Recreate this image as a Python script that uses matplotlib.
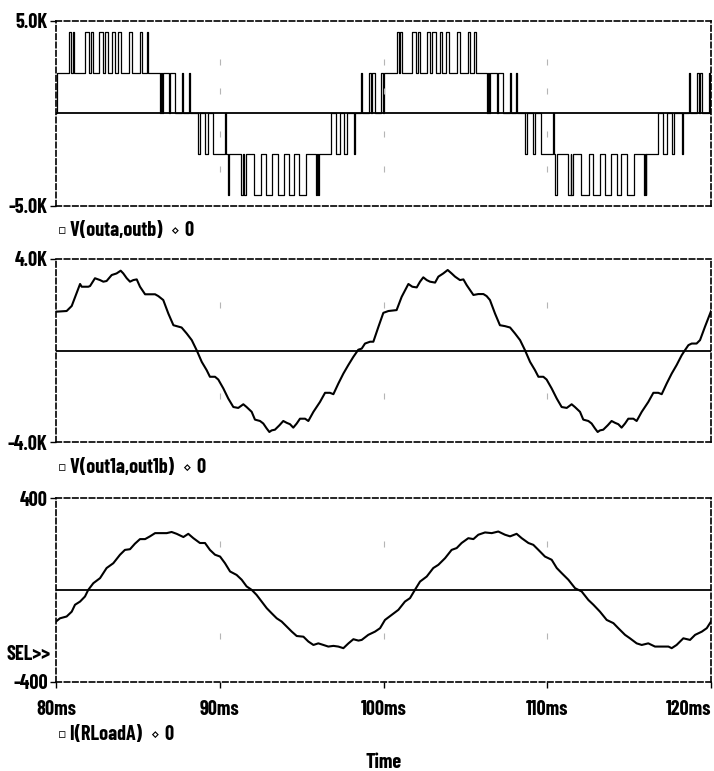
import matplotlib
matplotlib.use('Agg')
import matplotlib.pyplot as plt

FONT = ['Barlow Condensed', 'DejaVu Sans']
plt.rcParams['font.family'] = FONT
plt.rcParams['font.weight'] = 'bold'

# ---------------- data ----------------
# Panel 1: V(outa,outb) multilevel PWM (step points: time ms, level kV after that time)
pwm_t = [80.00, 80.06, 80.82, 80.92, 81.01, 81.10, 81.77, 81.99, 82.11, 82.23,
         82.63, 82.87, 82.99, 83.18, 83.42, 83.60, 83.79, 83.97, 84.46, 84.67,
         85.13, 85.28, 85.53, 85.62, 86.35, 86.41, 86.47, 86.53, 86.93, 86.99,
         87.27, 87.70, 87.76, 88.12, 88.18, 88.67, 88.79, 89.10, 89.28, 89.59,
         90.35, 90.41, 90.50, 90.57, 91.27, 91.42, 91.48, 91.60, 92.09, 92.52,
         92.82, 93.22, 93.53, 93.92, 94.23, 94.53, 94.84, 95.27, 95.88, 95.94,
         96.00, 96.06, 96.79, 97.08, 97.34, 97.61, 97.75, 98.20, 98.26, 98.63,
         98.69, 99.12, 99.24, 99.30, 99.48, 99.85, 99.94, 100.03,
         100.82, 100.92, 101.01, 101.10, 101.77, 101.99, 102.11, 102.23,
         102.63, 102.87, 102.99, 103.18, 103.42, 103.60, 103.79, 103.97, 104.46, 104.67,
         105.13, 105.28, 105.53, 105.62, 106.35, 106.41, 106.47, 106.53, 106.93, 106.99,
         107.27, 107.70, 107.76, 108.12, 108.18, 108.67, 108.79, 109.10, 109.28, 109.59,
         110.35, 110.41, 110.50, 110.57, 111.27, 111.42, 111.48, 111.60, 112.09, 112.52,
         112.82, 113.22, 113.53, 113.92, 114.23, 114.53, 114.84, 115.27, 115.88, 115.94,
         116.00, 116.06, 116.79, 117.08, 117.34, 117.61, 117.75, 118.20, 118.26, 118.63,
         118.69, 119.12, 119.24, 119.30, 119.48, 119.85, 119.94, 120.00]
pwm_v = [0, 2.2, 4.4, 2.2, 4.4, 2.2, 4.4, 2.2, 4.4, 2.2,
         4.4, 2.2, 4.4, 2.2, 4.4, 2.2, 4.4, 2.2, 4.4, 2.2,
         4.4, 2.2, 4.4, 2.2, 0, 2.2, 0, 2.2, 0, 2.2,
         0, 2.2, 0, 2.2, 0, -2.2, 0, -2.2, 0, -2.2,
         0, -2.2, -4.4, -2.2, -4.4, -2.2, -4.4, -2.2, -4.4, -2.2,
         -4.4, -2.2, -4.4, -2.2, -4.4, -2.2, -4.4, -2.2, -4.4, -2.2,
         -4.4, -2.2, 0, -2.2, 0, -2.2, 0, -2.2, 0, 2.2,
         0, 2.2, 0, 2.2, 0, 2.2, 0, 2.2,
         4.4, 2.2, 4.4, 2.2, 4.4, 2.2, 4.4, 2.2,
         4.4, 2.2, 4.4, 2.2, 4.4, 2.2, 4.4, 2.2, 4.4, 2.2,
         4.4, 2.2, 4.4, 2.2, 0, 2.2, 0, 2.2, 0, 2.2,
         0, 2.2, 0, 2.2, 0, -2.2, 0, -2.2, 0, -2.2,
         0, -2.2, -4.4, -2.2, -4.4, -2.2, -4.4, -2.2, -4.4, -2.2,
         -4.4, -2.2, -4.4, -2.2, -4.4, -2.2, -4.4, -2.2, -4.4, -2.2,
         -4.4, -2.2, 0, -2.2, 0, -2.2, 0, -2.2, 0, 2.2,
         0, 2.2, 0, 2.2, 0, 2.2, 0, 0]

# Panel 2: V(out1a,out1b) (time ms, kV)
v1_t = [80.00, 80.65, 80.96, 81.47, 81.57, 81.97, 82.08, 82.38, 82.69, 82.89,
        83.09, 83.40, 83.70, 83.95, 84.11, 84.32, 84.52, 84.72, 84.93, 85.13,
        85.44, 85.64, 86.05, 86.25, 86.55, 86.86, 87.17, 87.37, 87.67, 87.98,
        88.29, 88.59, 88.90, 89.20, 89.40, 89.71, 89.91, 90.22, 90.52, 90.83,
        91.13, 91.44, 91.64, 91.95, 92.15, 92.46, 92.66, 92.87, 93.03, 93.17,
        93.37, 93.64, 93.88, 94.09, 94.29, 94.49, 94.70, 94.90, 95.21, 95.41,
        95.72, 96.12, 96.43, 96.73, 96.94, 97.24, 97.55, 97.85, 98.16, 98.46,
        98.67, 98.87, 99.18, 99.38, 99.69, 99.99, 100.30, 100.80, 101.11, 101.52,
        101.76, 102.03, 102.23, 102.43, 102.64, 102.84, 103.15, 103.35, 103.65, 103.92,
        104.16, 104.37, 104.67, 104.88, 105.08, 105.49, 105.79, 106.10, 106.30, 106.50,
        106.81, 107.11, 107.42, 107.73, 108.03, 108.34, 108.64, 108.95, 109.25, 109.46,
        109.76, 109.96, 110.27, 110.58, 110.88, 111.19, 111.49, 111.69, 112.00, 112.20,
        112.51, 112.71, 112.92, 113.08, 113.22, 113.42, 113.69, 113.93, 114.14, 114.34,
        114.54, 114.75, 114.95, 115.26, 115.46, 115.77, 116.17, 116.48, 116.78, 116.99,
        117.29, 117.60, 117.90, 118.21, 118.41, 118.62, 118.82, 119.12, 119.33, 119.63,
        119.94, 120.00]
v1_v = [1.70, 1.73, 1.95, 2.91, 2.79, 2.79, 2.82, 3.16, 3.08, 3.01,
        3.04, 3.30, 3.37, 3.49, 3.37, 3.16, 3.01, 3.08, 3.11, 2.79,
        2.46, 2.46, 2.46, 2.38, 2.21, 1.62, 1.11, 1.07, 1.01, 0.75,
        0.46, 0.02, -0.49, -0.85, -1.14, -1.14, -1.26, -1.65, -2.09, -2.46,
        -2.50, -2.34, -2.46, -2.67, -3.01, -3.07, -3.18, -3.40, -3.55, -3.48,
        -3.45, -3.26, -3.07, -3.15, -3.21, -3.36, -3.18, -2.97, -2.97, -3.07,
        -2.67, -2.24, -1.84, -1.84, -1.90, -1.44, -1.00, -0.63, -0.27, 0.04,
        0.09, 0.31, 0.39, 0.39, 1.04, 1.65, 1.73, 1.77, 2.35, 2.91,
        2.79, 2.76, 3.01, 3.20, 3.08, 3.01, 2.97, 3.23, 3.37, 3.52,
        3.37, 3.23, 3.08, 3.11, 2.86, 2.43, 2.47, 2.47, 2.38, 2.21,
        1.62, 1.11, 1.07, 1.01, 0.75, 0.46, 0.02, -0.49, -0.85, -1.14,
        -1.14, -1.26, -1.65, -2.09, -2.46, -2.50, -2.34, -2.46, -2.67, -3.01,
        -3.07, -3.18, -3.40, -3.55, -3.48, -3.45, -3.26, -3.07, -3.15, -3.21,
        -3.36, -3.18, -2.97, -2.97, -3.07, -2.67, -2.24, -1.84, -1.84, -1.90,
        -1.44, -1.00, -0.63, -0.20, 0.02, 0.24, 0.31, 0.31, 0.46, 1.04,
        1.62, 1.72]

# Panel 3: I(RLoadA) (time ms, A)
i_t = [80.00, 80.24, 80.65, 80.96, 81.16, 81.47, 81.77, 81.97, 82.28, 82.69,
       83.09, 83.50, 83.91, 84.21, 84.52, 84.82, 85.13, 85.44, 85.74, 86.05,
       86.35, 86.76, 87.06, 87.37, 87.78, 88.08, 88.39, 88.79, 89.10, 89.40,
       89.71, 90.02, 90.32, 90.63, 91.03, 91.34, 91.64, 91.95, 92.25, 92.56,
       92.87, 93.17, 93.48, 93.78, 94.09, 94.40, 94.70, 95.11, 95.41, 95.72,
       96.02, 96.33, 96.63, 96.94, 97.24, 97.55, 97.86, 98.16, 98.47, 98.67,
       99.07, 99.48, 99.79, 100.09, 100.50, 100.91, 101.31, 101.62, 101.92, 102.23,
       102.64, 103.04, 103.35, 103.76, 104.16, 104.47, 104.77, 105.18, 105.49, 105.79,
       106.20, 106.61, 107.01, 107.42, 107.73, 108.13, 108.44, 108.85, 109.15, 109.46,
       109.86, 110.27, 110.58, 110.88, 111.29, 111.70, 112.10, 112.51, 112.82, 113.22,
       113.63, 114.04, 114.34, 114.75, 115.05, 115.46, 115.77, 116.17, 116.58, 116.99,
       117.40, 117.60, 117.90, 118.31, 118.72, 119.03, 119.44, 119.74, 120.00]
i_v = [-138, -124, -116, -95, -65, -51, -29, 0, 29, 51,
       95, 116, 153, 174, 177, 201, 221, 221, 233, 247,
       247, 247, 252, 244, 230, 244, 225, 204, 204, 174,
       153, 145, 116, 80, 65, 44, 15, 0, -22, -51,
       -80, -102, -124, -138, -160, -182, -201, -204, -225, -240,
       -233, -240, -247, -244, -247, -254, -233, -215, -221, -218,
       -196, -182, -167, -131, -109, -87, -51, -36, 0, 36,
       58, 95, 109, 138, 174, 182, 204, 225, 221, 240,
       250, 247, 254, 240, 233, 244, 225, 204, 196, 174,
       145, 131, 95, 73, 44, 7, -7, -44, -65, -95,
       -131, -145, -167, -196, -211, -233, -240, -233, -247, -247,
       -247, -254, -240, -211, -218, -196, -182, -167, -138]

time_ticks = [80, 90, 100, 110, 120]
time_labels = ['80ms', '90ms', '100ms', '110ms', '120ms']
panel_limits = [(-5.0, 5.0), (-4.0, 4.0), (-400, 400)]
panel_ylabels = [['-5.0K', '5.0K'], ['-4.0K', '4.0K'], ['-400', '400']]
grid_dot_rows = [[2.8, 1.2, -1.1, -3.0], [2.0, -2.0], [200, -200]]
legend_names = ['V(outa,outb)', 'V(out1a,out1b)', 'I(RLoadA)']

# ---------------- figure ----------------
W, H = 714, 771
FS = 14.5
fig = plt.figure(figsize=(W / 100, H / 100), dpi=100)


def rect(x0, y0, x1, y1):
    return [x0 / W, 1 - y1 / H, (x1 - x0) / W, (y1 - y0) / H]


ax1 = fig.add_axes(rect(56, 21, 711, 205.7))
ax2 = fig.add_axes(rect(56, 259, 711, 442.3))
ax3 = fig.add_axes(rect(56, 498, 711, 681.7))
axes = [ax1, ax2, ax3]

ax1.plot(pwm_t, pwm_v, drawstyle='steps-post', color='black', lw=0.9)
ax2.plot(v1_t, v1_v, color='black', lw=1.5)
ax3.plot(i_t, i_v, color='black', lw=1.5)

for k, ax in enumerate(axes):
    lo, hi = panel_limits[k]
    ax.plot([80, 120], [0, 0], color='black', lw=1.3)
    for gx in time_ticks[1:-1]:
        ax.plot([gx] * len(grid_dot_rows[k]), grid_dot_rows[k], ls='none',
                marker='|', ms=4, mew=0.8, color='#b5b5b5')
    ax.set_xlim(80, 120)
    ax.set_ylim(lo, hi)
    for s in ax.spines.values():
        s.set_linestyle((0, (3.2, 1.8)))
        s.set_linewidth(1.2)
        s.set_color('black')
    ax.set_yticks([lo, hi])
    ax.set_yticklabels(panel_ylabels[k])
    ax.tick_params(axis='y', direction='out', length=4, width=1, pad=2,
                   labelsize=FS, colors='black')
    if k < 2:
        ax.set_xticks([])
    ax.set_facecolor('white')

ax3.set_xticks(time_ticks)
ax3.set_xticklabels(time_labels)
ax3.tick_params(axis='x', direction='out', length=4, width=1, pad=9,
                labelsize=FS, colors='black')
lbls = ax3.get_xticklabels()
lbls[-1].set_horizontalalignment('right')

for name, y in zip(legend_names, [231, 468, 735]):
    yf = 1 - y / H
    fig.text(58 / W, yf, '\u25ab', fontsize=9, ha='left', va='center',
             family='DejaVu Sans', fontweight='normal')
    t = fig.text(70 / W, yf, name + '  ', fontsize=FS, fontweight='bold',
                 ha='left', va='center')
    fig.canvas.draw()
    bb = t.get_window_extent()
    x_end = bb.x1
    fig.text(x_end / W, yf, '\u22c4', fontsize=10, ha='left', va='center',
             family='DejaVu Sans', fontweight='normal')
    fig.text((x_end + 14) / W, yf, '0', fontsize=FS, fontweight='bold',
             ha='left', va='center')

fig.text(51 / W, 1 - 655 / H, 'SEL>>', fontsize=FS, fontweight='bold',
         ha='right', va='center')
fig.text(384 / W, 1 - 763 / H, 'Time', fontsize=FS, fontweight='bold',
         ha='center', va='center')

fig.savefig('out.png', dpi=100, facecolor='white')
